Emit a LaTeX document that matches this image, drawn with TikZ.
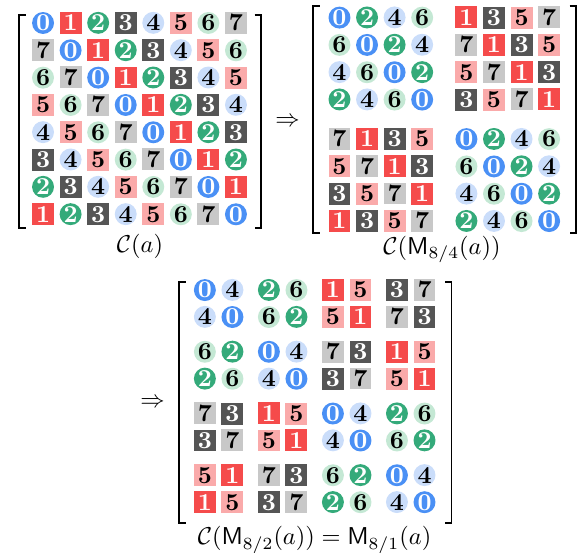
\documentclass[tikz,border=0pt]{standalone}
\usepackage{amsmath}
\usepackage{amssymb}
\usepackage{tikz}
\usetikzlibrary{matrix, positioning}
\definecolor{dblue}{RGB}{74,144,245}
\definecolor{dred}{RGB}{245,75,75}
\definecolor{dgreen}{RGB}{52,170,122}
\definecolor{dgray}{RGB}{85,85,85}
\definecolor{lblue}{RGB}{202,221,250}
\definecolor{lred}{RGB}{250,170,170}
\definecolor{lgreen}{RGB}{196,232,212}
\definecolor{lgray}{RGB}{200,200,200}
\tikzset{
         mycirc/.style={circle, minimum size=9pt, inner sep=0pt, font=\bfseries},
         mysq/.style={rectangle, minimum size=9pt, inner sep=0pt, font=\bfseries},
         my0/.style={mycirc, fill=dblue, text=white},
         my1/.style={mysq, fill=dred, text=white},
         my2/.style={mycirc, fill=dgreen, text=white},
         my3/.style={mysq, fill=dgray, text=white},
         my4/.style={mycirc, fill=lblue},
         my5/.style={mysq, fill=lred},
         my6/.style={mycirc, fill=lgreen},
         my7/.style={mysq, fill=lgray},
         mybrk/.style={line width=.8pt},
         mylabel/.style={inner sep=0pt}
      }
\begin{document}
\begin{tikzpicture}[x=0.41pt, y=-0.41pt]
  \useasboundingbox (0,0) rectangle (584,552);
  % C(a)
  \matrix (ca) [matrix of nodes, inner sep=0pt,
                column sep=2.3pt, row sep=2.1pt] at (139.5,118.5) {
    |[my0]| 0 & |[my1]| 1 & |[my2]| 2 & |[my3]| 3 & |[my4]| 4 & |[my5]| 5 & |[my6]| 6 & |[my7]| 7 \\
    |[my7]| 7 & |[my0]| 0 & |[my1]| 1 & |[my2]| 2 & |[my3]| 3 & |[my4]| 4 & |[my5]| 5 & |[my6]| 6 \\
    |[my6]| 6 & |[my7]| 7 & |[my0]| 0 & |[my1]| 1 & |[my2]| 2 & |[my3]| 3 & |[my4]| 4 & |[my5]| 5 \\
    |[my5]| 5 & |[my6]| 6 & |[my7]| 7 & |[my0]| 0 & |[my1]| 1 & |[my2]| 2 & |[my3]| 3 & |[my4]| 4 \\
    |[my4]| 4 & |[my5]| 5 & |[my6]| 6 & |[my7]| 7 & |[my0]| 0 & |[my1]| 1 & |[my2]| 2 & |[my3]| 3 \\
    |[my3]| 3 & |[my4]| 4 & |[my5]| 5 & |[my6]| 6 & |[my7]| 7 & |[my0]| 0 & |[my1]| 1 & |[my2]| 2 \\
    |[my2]| 2 & |[my3]| 3 & |[my4]| 4 & |[my5]| 5 & |[my6]| 6 & |[my7]| 7 & |[my0]| 0 & |[my1]| 1 \\
    |[my1]| 1 & |[my2]| 2 & |[my3]| 3 & |[my4]| 4 & |[my5]| 5 & |[my6]| 6 & |[my7]| 7 & |[my0]| 0 \\
  };
  \draw[mybrk] (25.5,15) -- (19,15) -- (19,228.3) -- (25.5,228.3);
  \draw[mybrk] (254.5,15) -- (261,15) -- (261,228.3) -- (254.5,228.3);
  \node[mylabel] (lca) at (140,246.5) {$\mathcal{C}(a)$};
  \node[mylabel] (imp1) at (287.5,122) {$\Rightarrow$};

  % C(M_{8/4}(a))
  \matrix (cb) [matrix of nodes, inner sep=0pt,
                column sep=2.3pt, row sep=2.1pt] at (444.3,119.2) {
    |[my0]| 0 & |[my2]| 2 & |[my4]| 4 & |[my6]| 6 &[6.85pt] |[my1]| 1 & |[my3]| 3 & |[my5]| 5 & |[my7]| 7 \\
    |[my6]| 6 & |[my0]| 0 & |[my2]| 2 & |[my4]| 4 & |[my7]| 7 & |[my1]| 1 & |[my3]| 3 & |[my5]| 5 \\
    |[my4]| 4 & |[my6]| 6 & |[my0]| 0 & |[my2]| 2 & |[my5]| 5 & |[my7]| 7 & |[my1]| 1 & |[my3]| 3 \\
    |[my2]| 2 & |[my4]| 4 & |[my6]| 6 & |[my0]| 0 & |[my3]| 3 & |[my5]| 5 & |[my7]| 7 & |[my1]| 1 \\[5pt]
    |[my7]| 7 & |[my1]| 1 & |[my3]| 3 & |[my5]| 5 & |[my0]| 0 & |[my2]| 2 & |[my4]| 4 & |[my6]| 6 \\
    |[my5]| 5 & |[my7]| 7 & |[my1]| 1 & |[my3]| 3 & |[my6]| 6 & |[my0]| 0 & |[my2]| 2 & |[my4]| 4 \\
    |[my3]| 3 & |[my5]| 5 & |[my7]| 7 & |[my1]| 1 & |[my4]| 4 & |[my6]| 6 & |[my0]| 0 & |[my2]| 2 \\
    |[my1]| 1 & |[my3]| 3 & |[my5]| 5 & |[my7]| 7 & |[my2]| 2 & |[my4]| 4 & |[my6]| 6 & |[my0]| 0 \\
  };
  \draw[mybrk] (319.8,6) -- (313.3,6) -- (313.3,233.3) -- (319.8,233.3);
  \draw[mybrk] (569.5,6) -- (576,6) -- (576,233.3) -- (569.5,233.3);
  \node[mylabel] (lcb) at (442,249.5) {$\mathcal{C}(\mathsf{M}_{8/4}(a))$};

  % C(M_{8/2}(a)) = M_{8/1}(a)
  \node[mylabel] (imp2) at (152.5,402.7) {$\Rightarrow$};
  \matrix (cc) [matrix of nodes, inner sep=0pt,
                column sep=2.3pt, row sep=1.95pt] at (314.7,396) {
    |[my0]| 0 & |[my4]| 4 &[3.65pt] |[my2]| 2 & |[my6]| 6 &[3.65pt] |[my1]| 1 & |[my5]| 5 &[3.65pt] |[my3]| 3 & |[my7]| 7 \\
    |[my4]| 4 & |[my0]| 0 & |[my6]| 6 & |[my2]| 2 & |[my5]| 5 & |[my1]| 1 & |[my7]| 7 & |[my3]| 3 \\[3.2pt]
    |[my6]| 6 & |[my2]| 2 & |[my0]| 0 & |[my4]| 4 & |[my7]| 7 & |[my3]| 3 & |[my1]| 1 & |[my5]| 5 \\
    |[my2]| 2 & |[my6]| 6 & |[my4]| 4 & |[my0]| 0 & |[my3]| 3 & |[my7]| 7 & |[my5]| 5 & |[my1]| 1 \\[3.2pt]
    |[my7]| 7 & |[my3]| 3 & |[my1]| 1 & |[my5]| 5 & |[my0]| 0 & |[my4]| 4 & |[my2]| 2 & |[my6]| 6 \\
    |[my3]| 3 & |[my7]| 7 & |[my5]| 5 & |[my1]| 1 & |[my4]| 4 & |[my0]| 0 & |[my6]| 6 & |[my2]| 2 \\[3.2pt]
    |[my5]| 5 & |[my1]| 1 & |[my7]| 7 & |[my3]| 3 & |[my6]| 6 & |[my2]| 2 & |[my0]| 0 & |[my4]| 4 \\
    |[my1]| 1 & |[my5]| 5 & |[my3]| 3 & |[my7]| 7 & |[my2]| 2 & |[my6]| 6 & |[my4]| 4 & |[my0]| 0 \\
  };
  \draw[mybrk] (185.8,281.7) -- (179.3,281.7) -- (179.3,522.7) -- (185.8,522.7);
  \draw[mybrk] (445,281.7) -- (451.5,281.7) -- (451.5,522.7) -- (445,522.7);
  \node[mylabel] (lcc) at (314.5,540) {$\mathcal{C}(\mathsf{M}_{8/2}(a)) = \mathsf{M}_{8/1}(a)$};
\end{tikzpicture}
\end{document}
